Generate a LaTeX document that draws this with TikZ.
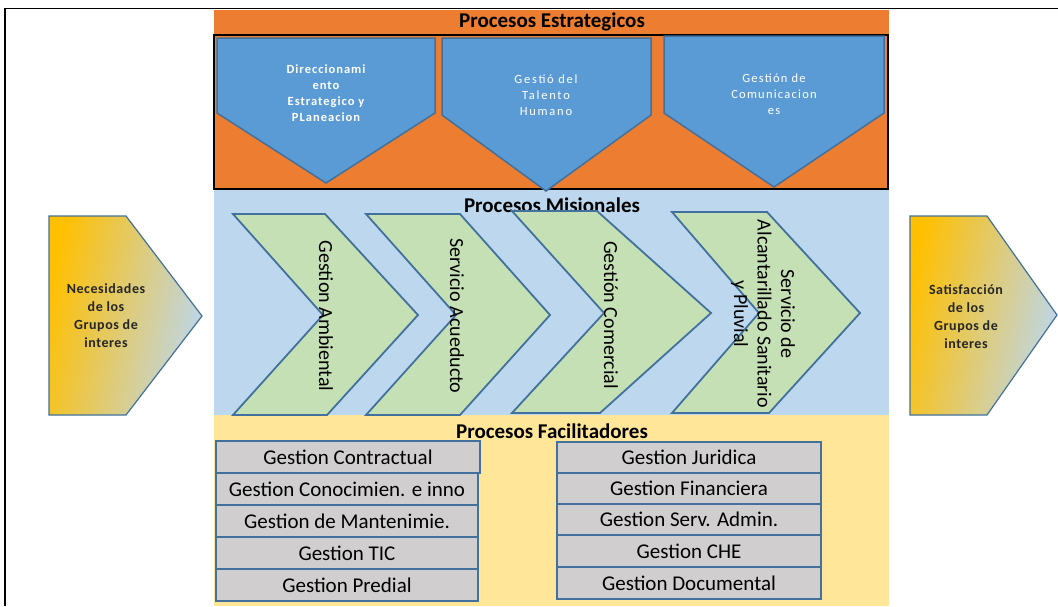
\documentclass[tikz,border=0pt]{standalone}
\usepackage{fontspec}
\setmainfont{Carlito}
\definecolor{orng}{HTML}{ED7D31}
\definecolor{pblue}{HTML}{5B9BD5}
\definecolor{bordblue}{HTML}{41719C}
\definecolor{lblue}{HTML}{BDD7EE}
\definecolor{lgreen}{HTML}{C5E0B4}
\definecolor{lyel}{HTML}{FFE699}
\definecolor{lgray}{HTML}{D0CECE}
\definecolor{gold}{HTML}{FFC000}
\definecolor{txtdark}{HTML}{262626}
\tikzset{
  pent/.style={fill=pblue, draw=bordblue, line width=1.5pt, line join=miter},
  chev/.style={fill=lgreen, draw=bordblue, line width=1.8pt, line join=miter},
  sidepent/.style={top color=gold, bottom color=lblue, shading angle=78, draw=bordblue, line width=1.2pt},
  gbox/.style={rectangle, fill=lgray, draw=bordblue, line width=2.2pt, inner sep=0pt,
    font=\fontsize{21}{24}\selectfont, text=black},
  title/.style={font=\bfseries\fontsize{21}{24}\selectfont, text=black, inner sep=0pt},
  ptext/.style={text=white, align=center, inner sep=0pt},
  chtext/.style={rotate=-90, align=center, inner sep=0pt, text=black, font=\fontsize{20}{23.5}\selectfont},
  sidetext/.style={align=center, inner sep=0pt, text=txtdark, font=\bfseries\fontsize{14}{18}\selectfont\addfontfeature{LetterSpace=4}}
}
\begin{document}
\begin{tikzpicture}[x=1pt,y=-1pt]
\useasboundingbox (0,0) rectangle (1058,606);
\fill[white] (0,0) rectangle (1058,606);
% outer frame
\draw[black, line width=1.3pt] (5,606) -- (5,8.5) -- (1058,8.5);
% bands
\fill[orng] (214,9.5) rectangle (889,190);
\fill[lblue] (214,190) rectangle (889,415);
\fill[lyel] (214,415) rectangle (889,606);
\draw[black, line width=1.8pt] (214,35) rectangle (888,189);
% strategic pentagons
\draw[pent] (217,38) -- (435,38) -- (435,113) -- (326,183) -- (217,113) -- cycle;
\draw[pent] (442,38) -- (651,38) -- (651,115) -- (546,191) -- (442,115) -- cycle;
\draw[pent] (664,36) -- (884,36) -- (884,113) -- (774,187) -- (664,113) -- cycle;
\node[ptext, font=\bfseries\fontsize{12.5}{16}\selectfont\addfontfeature{LetterSpace=8}] (d1) at (326,93) {Direccionami\\ento\\Estrategico y\\PLaneacion};
\node[ptext, font=\fontsize{12.5}{16}\selectfont\addfontfeature{LetterSpace=14}] (d2) at (546,95) {Gestió del\\Talento\\Humano};
\node[ptext, font=\fontsize{12.5}{16}\selectfont\addfontfeature{LetterSpace=10}] (d3) at (774,94) {Gestión de\\Comunicacion\\es};
% titles
\node[title] (t1) at (552,22) {Procesos Estrategicos};
\node[title] (t2) at (552,205) {Procesos Misionales};
\node[title] (t3) at (552,431) {Procesos Facilitadores};
% chevrons
\draw[chev] (233,214) -- (325,214) -- (418,315) -- (327,415) -- (233,415) -- (323,315) -- cycle;
\draw[chev] (366,214) -- (460,214) -- (550,315) -- (460,415) -- (366,415) -- (456,315) -- cycle;
\draw[chev] (512,211) -- (597,211) -- (711,313) -- (600,413) -- (512,413) -- (604,313) -- cycle;
\draw[chev] (672,212) -- (767,212) -- (860,313) -- (769,413) -- (672,413) -- (759,313) -- cycle;
\node[chtext] (c1) at (326,316) {Gestion Ambiental};
\node[chtext] (c2) at (457,316) {Servicio Acueducto};
\node[chtext] (c3) at (611,315) {Gestión Comercial};
\node[chtext] (c4) at (763,314) {Servicio de\\Alcantarillado Sanitario\\y Pluvial};
% side pentagons
\shade[sidepent] (49,216) -- (126,216) -- (202,316) -- (126,415) -- (49,415) -- cycle;
\shade[sidepent] (910,216) -- (987,216) -- (1057,315) -- (987,415) -- (910,415) -- cycle;
\node[sidetext] (n1) at (106,316) {Necesidades\\de los\\Grupos de\\interes};
\node[sidetext] (n2) at (966,317) {Satisfacción\\de los\\Grupos de\\interes};
% facilitator boxes, left column
\node[gbox, minimum width=264, minimum height=32] (l1) at (348,457) {Gestion Contractual};
\node[gbox, minimum width=262, minimum height=32] (l2) at (347,489) {Gestion Conocimien. e inno};
\node[gbox, minimum width=262, minimum height=32] (l3) at (347,521) {Gestion de Mantenimie.};
\node[gbox, minimum width=262, minimum height=32] (l4) at (347,553) {Gestion TIC};
\node[gbox, minimum width=262, minimum height=32] (l5) at (347,585) {Gestion Predial};
% right column
\node[gbox, minimum width=264, minimum height=31] (r1) at (689,457.5) {Gestion Juridica};
\node[gbox, minimum width=264, minimum height=31] (r2) at (689,488.5) {Gestion Financiera};
\node[gbox, minimum width=264, minimum height=31] (r3) at (689,519.5) {Gestion Serv. Admin.};
\node[gbox, minimum width=264, minimum height=32] (r4) at (689,551) {Gestion CHE};
\node[gbox, minimum width=264, minimum height=32] (r5) at (689,583) {Gestion Documental};
\end{tikzpicture}
\end{document}
